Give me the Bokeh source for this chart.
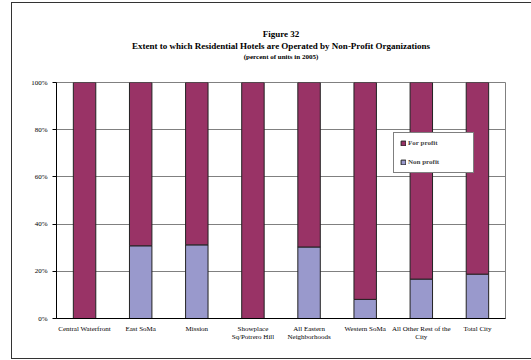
from bokeh.plotting import figure
from bokeh.models import (ColumnDataSource, Legend, LegendItem, Title, FixedTicker,
                          NumeralTickFormatter, Range1d)
from bokeh.embed import file_html
from bokeh.resources import INLINE

categories = ["Central Waterfront", "East SoMa", "Mission", "Showplace\nSq/Potrero Hill",
              "All Eastern\nNeighborhoods", "Western SoMa", "All Other Rest of the\nCity",
              "Total City"]
non_profit = [0.0, 0.308, 0.312, 0.0, 0.303, 0.081, 0.167, 0.188]
for_profit = [1 - v for v in non_profit]
y_ticks = [0, 0.2, 0.4, 0.6, 0.8, 1.0]

FONT = "Liberation Serif"
FOR_COLOR = "#993366"
NON_COLOR = "#9999CC"

src = ColumnDataSource(dict(cat=categories, non=non_profit, forp=for_profit))

p = figure(width=519, height=355, x_range=categories, y_range=Range1d(0, 1),
           output_backend="svg", toolbar_location=None,
           min_border_left=44, min_border_right=27, min_border_bottom=42, min_border_top=79)

rs = p.vbar_stack(["non", "forp"], x="cat", width=0.4, source=src,
                  fill_color=[NON_COLOR, FOR_COLOR], line_color="#222222", line_width=1)

# Titles (first added is closest to the plot)
spacer = Title(text=" ", text_font=FONT, text_font_size="18px", standoff=0)
t3 = Title(text="(percent of units in 2005)", align="center", text_font=FONT,
           text_font_size="7px", text_font_style="bold", text_color="#000000", standoff=0)
t2 = Title(text="Extent to which Residential Hotels are Operated by Non-Profit Organizations",
           align="center", text_font=FONT, text_font_size="9px", text_font_style="bold",
           text_color="#000000", standoff=0, text_line_height=1.0)
t1 = Title(text="Figure 32", align="center", text_font=FONT, text_font_size="9px",
           text_font_style="bold", text_color="#000000", standoff=0, text_line_height=1.0)
p.add_layout(spacer, "above")
p.add_layout(t3, "above")
p.add_layout(t2, "above")
p.add_layout(t1, "above")

# Axes
p.yaxis.ticker = FixedTicker(ticks=y_ticks)
p.yaxis.formatter = NumeralTickFormatter(format="0%")
p.yaxis.major_label_text_font = FONT
p.yaxis.major_label_text_font_size = "7px"
p.yaxis.major_label_text_color = "#000000"
p.yaxis.major_tick_in = 0
p.yaxis.major_tick_out = 4
p.yaxis.minor_tick_line_color = None
p.yaxis.axis_line_color = "#000000"
p.yaxis.major_tick_line_color = "#000000"

p.xaxis.major_label_text_font = FONT
p.xaxis.major_label_text_font_size = "7px"
p.xaxis.major_label_text_color = "#000000"
p.xaxis.major_label_text_line_height = 1.1
p.xaxis.major_tick_line_color = None
p.xaxis.axis_line_color = "#000000"
p.xaxis.major_label_standoff = 0

p.xgrid.grid_line_color = None
p.ygrid.grid_line_color = "#808080"
p.ygrid.grid_line_width = 1
p.outline_line_color = "#808080"
p.x_range.range_padding = 0

legend = Legend(items=[LegendItem(label="For profit", renderers=[rs[1]]),
                       LegendItem(label="Non profit", renderers=[rs[0]])],
                location=(337, 145), label_text_font=FONT, label_text_font_size="7px",
                label_text_font_style="bold", border_line_color="#000000",
                border_line_width=1, glyph_width=6, glyph_height=6, label_height=8,
                label_width=59, spacing=11, padding=6, margin=0, label_standoff=2,
                background_fill_alpha=1)
p.add_layout(legend, "center")

p.styles = {"margin-left": "11px", "margin-top": "2px", "box-sizing": "content-box",
            "border-left": "1px solid #333", "border-top": "1px solid #333",
            "border-bottom": "1px solid #333"}

open("out.html", "w").write(file_html(p, INLINE))
